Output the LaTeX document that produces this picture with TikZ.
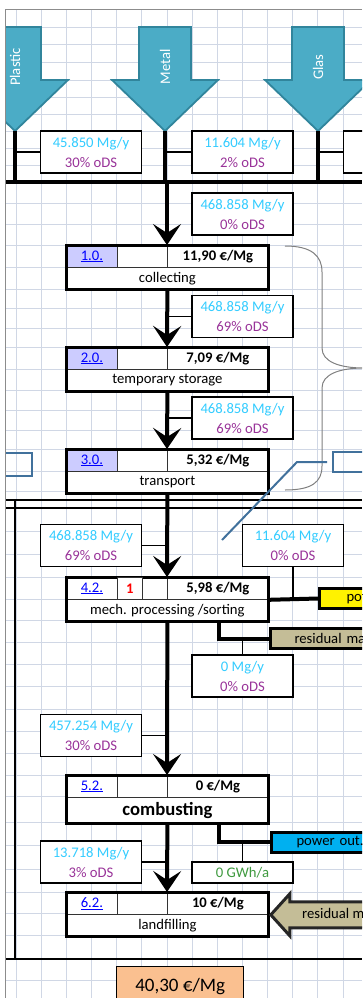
\documentclass[tikz,border=0pt]{standalone}
\usepackage{fontspec}
\setmainfont{Carlito}
\usetikzlibrary{arrows.meta, positioning}

\definecolor{gridcol}{HTML}{D0D7E5}
\definecolor{masscol}{HTML}{33CCFF}
\definecolor{odscol}{HTML}{993399}
\definecolor{energycol}{HTML}{3F9A3F}
\definecolor{linkcol}{HTML}{0000FF}
\definecolor{idfill}{HTML}{CCCCFF}
\definecolor{arrowfill}{HTML}{4BACC6}
\definecolor{arrowline}{HTML}{31859C}
\definecolor{calloutcol}{HTML}{41719C}
\definecolor{residfill}{HTML}{C4BD97}
\definecolor{powerfill}{HTML}{00B0F0}
\definecolor{totalfill}{HTML}{FAC090}

\newcommand{\massods}[2]{\textcolor{masscol}{#1}\\\textcolor{odscol}{#2}}
\newcommand{\idlink}[1]{\textcolor{linkcol}{\underline{#1}}}

% input arrow: name, centre x, label
\newcommand{\inarrow}[3]{%
  \draw[inshape] (#2-26,27) -- (#2+26,27) -- (#2+26,80) -- (#2+53,80)
    -- (#2,131) -- (#2-53,80) -- (#2-26,80) -- cycle;
  \node[inlabel] (#1) at (#2,67) {#3};
  \coordinate (#1Tip) at (#2,131);
}

% process box: [name cell options], name, top y, id fill, id, cost, label
\newcommand{\procbox}[7][]{%
  \node[cell, idcell, fill=#4] (#2id) at (66,#3) {\idlink{#5}};
  \node[cell, minimum width=50pt] (#2gap) at (117,#3) {};
  \node[cell, costcell] (#2cost) at (167,#3) {#6};
  \node[cell, namecell, #1] (#2) at (66,#3+22) {#7};
  \draw[procframe] (#2id.north west) rectangle (#2.south east);
}

\begin{document}
\begin{tikzpicture}[
            x = 1pt,
            y = -1pt,
            font = \fontsize{14.67}{20}\selectfont,
            gridline/.style = {draw = gridcol, line width = 0.8pt},
            sheet/.style = {draw = black!45, line width = 1pt},
            frameline/.style = {line width = 1.5pt},
            inshape/.style = {fill = arrowfill, draw = arrowline, line width = 1.8pt},
            inlabel/.style = {rotate = 90, text = white},
            bus/.style = {line width = 4pt},
            flow/.style = {line width = 4pt, -{Stealth[length=21pt,width=28pt,inset=9pt]}},
            conn/.style = {line width = 1.2pt},
            massbox/.style = {draw, line width = 1.3pt, fill = white, minimum width = 101pt,
                              minimum height = 42pt, inner sep = 0pt, align = center},
            cell/.style = {draw = black!80, line width = 0.8pt, fill = white, minimum height = 22pt,
                           inner sep = 0pt, anchor = north west},
            idcell/.style = {minimum width = 51pt},
            costcell/.style = {minimum width = 101pt, font = \fontsize{14.67}{20}\selectfont\bfseries},
            namecell/.style = {minimum width = 202pt},
            procframe/.style = {line width = 3pt},
            outbox/.style = {draw, line width = 3pt, minimum height = 20pt, inner ysep = 0pt,
                             anchor = west, align = left},
            brace/.style = {draw = black!50, line width = 1pt},
            callout/.style = {draw = calloutcol, line width = 2pt}
        ]

        \useasboundingbox (0,0) rectangle (362,998);

        \begin{scope}
        \clip (5,10) rectangle (362,998);

        % sheet grid
        \foreach \gx in {0,...,13}
            \draw[gridline] (16+25.15*\gx,10) -- ++(0,988);
        \foreach \gy in {27,44,62,80,97,114,131,148,165,182,203,224,245,267,289,308,328,347,369,
                         390,410,430,449,471,491,508,531,554,577,599,620,642,664,686,709,731,753,
                         775,796,822,845,869,892,913,935,959,980}
            \draw[gridline] (5,\gy) -- (362,\gy);

        % frame of the treatment part
        \draw[frameline] (5,500) -- (362,500);
        \draw[frameline] (5,508) -- (362,508);
        \draw[frameline] (15,500) -- (15,959);
        \draw[frameline] (5,959) -- (362,959);

        % inputs
        \inarrow{plastic}{15}{Plastic}
        \inarrow{metal}{165}{Metal}
        \inarrow{glas}{318}{Glas}

        \coordinate (busL) at (5,182);
        \coordinate (busR) at (362,182);
        \draw[bus] (busL) -- (busR);
        \draw[bus] (plasticTip) -- (plasticTip |- busL);
        \draw[bus] (metalTip) -- (metalTip |- busL);
        \draw[bus] (glasTip) -- (glasTip |- busL);

        \node[massbox] (mPlastic) at (91,152) {\massods{45.850 Mg/y}{30\% oDS}};
        \node[massbox] (mMetal) at (242.5,152) {\massods{11.604 Mg/y}{2\% oDS}};
        \node[massbox] (mGlas) at (394,152) {};
        \draw[conn] (mPlastic.west) -- (mPlastic.west -| plasticTip);
        \draw[conn] (mMetal.west) -- (mMetal.west -| metalTip);
        \draw[conn] (mGlas.west) -- (mGlas.west -| glasTip);

        % process chain
        \procbox{p1}{245}{idfill}{1.0.}{11,90 €/Mg}{collecting}
        \procbox{p2}{347}{idfill}{2.0.}{7,09 €/Mg}{temporary storage}
        \procbox{p3}{449}{idfill}{3.0.}{5,32 €/Mg}{transport}
        \procbox{p4}{577}{white}{4.2.}{5,98 €/Mg}{mech. processing /sorting}
        \node[cell, minimum width = 25pt, font = \fontsize{14.67}{20}\selectfont\bfseries]
            (p4flag) at (117,577) {\textcolor{red}{1}};
        \procbox[minimum height = 26pt, font = \fontsize{18.67}{22}\selectfont\bfseries]
            {p5}{775}{white}{5.2.}{0 €/Mg}{combusting}
        \procbox{p6}{892}{white}{6.2.}{10 €/Mg}{landfilling}

        \node[massbox] (mCollect) at (242.5,214) {\massods{468.858 Mg/y}{0\% oDS}};
        \node[massbox] (mStore) at (242.5,316.5) {\massods{468.858 Mg/y}{69\% oDS}};
        \node[massbox] (mTrans) at (242.5,418) {\massods{468.858 Mg/y}{69\% oDS}};
        \node[massbox] (mSortIn) at (91,545.5) {\massods{468.858 Mg/y}{69\% oDS}};
        \node[massbox] (mMetalOut) at (293,545.5) {\massods{11.604 Mg/y}{0\% oDS}};
        \node[massbox] (mSortRes) at (242.5,676) {\massods{0 Mg/y}{0\% oDS}};
        \node[massbox] (mComb) at (91,735.5) {\massods{457.254 Mg/y}{30\% oDS}};
        \node[massbox] (mLand) at (91,862) {\massods{13.718 Mg/y}{3\% oDS}};
        \node[massbox, minimum height = 21pt] (eComb) at (242.5,872.5) {\textcolor{energycol}{0 GWh/a}};

        \draw[flow] (p1cost.north west |- busL) -- (p1cost.north west);
        \draw[flow] (p1.south) -- (p2cost.north west);
        \draw[flow] (p2.south) -- (p3cost.north west);
        \draw[flow] (p3.south) -- (p4cost.north west);
        \draw[flow] (p4.south) -- (p5cost.north west);
        \draw[flow] (p5.south) -- (p6cost.north west);

        \draw[conn] (mStore.west) -- (mStore.west -| p1.south);
        \draw[conn] (mTrans.west) -- (mTrans.west -| p2.south);
        \draw[conn] (mSortIn.east) -- (mSortIn.east -| p3.south);
        \draw[conn] (mComb.east) -- (mComb.east -| p4.south);
        \draw[conn] (mLand.east) -- (mLand.east -| p5.south);

        % outputs
        \node[outbox, fill = yellow, inner xsep = 27pt, text width = 80pt] (sortProd) at (318,598.5) {pot};
        \draw[bus] (p4cost.south east) -- (sortProd.west);
        \draw[conn] (mMetalOut.south) -- (mMetalOut.south |- sortProd.west);

        \node[outbox, fill = residfill, inner xsep = 24pt, text width = 110pt] (sortRes) at (269,638.5) {residual material};
        \draw[bus] ([xshift=-50pt]p4.south east) |- (sortRes.west);
        \draw[conn] (mSortRes.north) -- (mSortRes.north |- sortRes.west);

        \node[outbox, fill = powerfill, inner xsep = 25pt, text width = 80pt] (combPower) at (270,842) {power out.};
        \draw[bus] ([xshift=-50pt]p5.south east) |- (combPower.west);
        \draw[conn] (eComb.north) -- (eComb.north |- combPower.west);

        \draw[fill = residfill, draw = black!85, line width = 3pt]
            ([xshift=2pt]p6cost.south east) -- ++(19,-21) -- ++(0,8) -- ++(100,0) -- ++(0,26)
            -- ++(-100,0) -- ++(0,8) -- cycle;
        \node[anchor = west, inner sep = 0pt] (landRes) at (302,913) {residual material};

        % cost brace and callouts
        \draw[brace] (285,246) .. controls (312,246) and (322,256) .. (322,272) -- (322,348)
            .. controls (322,362) and (340,368) .. (364,368)
            .. controls (340,368) and (322,374) .. (322,388) -- (322,466)
            .. controls (322,482) and (312,490) .. (285,490);

        \node[callout, minimum width = 60pt, minimum height = 20pt, anchor = west] (callR) at (332,462) {};
        \node[callout, minimum width = 45pt, minimum height = 23pt, anchor = east] (callL) at (33,464.5) {};
        \draw[callout] ([xshift=-5pt]callR.west) -- ++(-30,0) -- ++(-75,78);

        % total
        \node[draw, line width = 1.3pt, fill = totalfill, minimum width = 127pt, minimum height = 40pt,
              anchor = north west, font = \fontsize{19}{22}\selectfont] (total) at (116,966) {40,30 €/Mg};
        \end{scope}

        \draw[sheet] (362,10) -- (5,10) -- (5,998);
    \end{tikzpicture}
\end{document}
